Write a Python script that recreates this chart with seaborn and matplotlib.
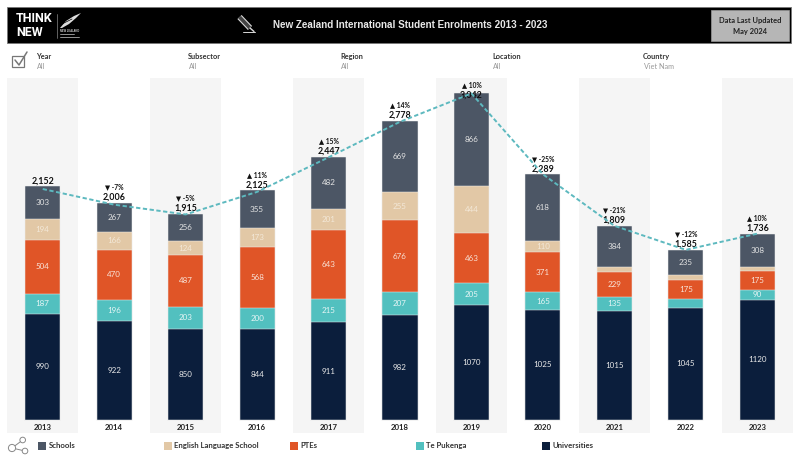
import matplotlib
matplotlib.use("Agg")
import matplotlib.pyplot as plt
from matplotlib.patches import Rectangle, Circle
import numpy as np
import seaborn as sns

years = ["2013", "2014", "2015", "2016", "2017", "2018", "2019", "2020", "2021", "2022", "2023"]
universities = [990, 922, 850, 844, 911, 982, 1070, 1025, 1015, 1045, 1120]
te_pukenga = [187, 196, 203, 200, 215, 207, 205, 165, 135, 85, 90]
ptes = [504, 470, 487, 568, 643, 676, 463, 371, 229, 175, 175]
english = [194, 166, 124, 173, 201, 255, 444, 110, 46, 45, 43]
schools = [303, 267, 256, 355, 482, 669, 866, 618, 384, 235, 308]
totals = [2152, 2006, 1915, 2125, 2447, 2778, 3042, 2289, 1809, 1585, 1736]
changes = [None, -7, -5, 11, 15, 14, 10, -25, -21, -12, 10]

# bottom to top, name / values / bar colour / label colour
stack = [
    ("Universities", universities, "#0b1e3c", "#e8e8e8"),
    ("Te Pukenga", te_pukenga, "#52c0bf", "#e6f5f5"),
    ("PTEs", ptes, "#e05527", "#f8e3d8"),
    ("English Language School", english, "#e2c8a6", "#f3e8d8"),
    ("Schools", schools, "#4c5665", "#e4e4e4"),
]
legend_order = ["Schools", "English Language School", "PTEs", "Te Pukenga", "Universities"]
legend_x = [38, 164, 290, 416, 542]
filter_names = ["Year", "Subsector", "Region", "Location", "Country"]
filter_values = ["All", "All", "All", "All", "Viet Nam"]
filter_x = [36, 188, 340, 492, 643]

W, H = 800, 458
sns.set_theme(style="white")
plt.rcParams["font.family"] = ["Lato", "DejaVu Sans"]

fig = plt.figure(figsize=(W / 100, H / 100), dpi=100, facecolor="white")


def pxAxes(left, top, right, bottom):
    return fig.add_axes([left / W, 1 - bottom / H, (right - left) / W, (bottom - top) / H])


ax = pxAxes(7, 78, 793, 433)
ax.set_facecolor("white")

# alternating year bands
for i in range(0, len(years), 2):
    ax.axvspan(i - 0.5, i + 0.5, color="#f5f5f5", lw=0, zorder=0)

# stacked bars, tallest cumulative layer first so the lower ones sit on top
cum = np.cumsum([s[1] for s in stack], axis=0)
for level in range(len(stack) - 1, -1, -1):
    sns.barplot(x=years, y=cum[level], color=stack[level][2], saturation=1, width=0.49,
                edgecolor="#f0f0f0", linewidth=0.35, ax=ax, zorder=2)

# segment labels
for level, (name, vals, col, txtcol) in enumerate(stack):
    base = cum[level] - np.array(vals)
    for i, v in enumerate(vals):
        if v < 90:
            continue
        ax.text(i, base[i] + v / 2, str(v), ha="center", va="center", fontsize=5.8,
                color=txtcol, zorder=4)

# totals and year on year change
tops = cum[-1]
for i, total in enumerate(totals):
    # 2019 label sits on the bar edge in the original
    off = -1.5 if years[i] == "2019" else 4
    ax.annotate(f"{total:,}", (i, tops[i]), xytext=(0, off), textcoords="offset points",
                ha="center", va="center", fontsize=6.4, fontweight="bold", color="#111111", zorder=3)
    if changes[i] is not None:
        arrow = "\u25b2" if changes[i] > 0 else "\u25bc"
        ax.annotate(f"{arrow} {changes[i]}%", (i, tops[i]), xytext=(0, off + 7.5), textcoords="offset points",
                    ha="center", va="center", fontsize=4.8, fontweight="bold", color="#111111", zorder=3)

sns.lineplot(x=np.arange(len(years)), y=totals, color="#5db9bf", linewidth=1.4,
             linestyle=(0, (2.2, 1.3)), errorbar=None, ax=ax, zorder=5)

ax.set_xlim(-0.5, 10.5)
ax.set_ylim(-121, 3186)
ax.set_xlabel("")
ax.set_ylabel("")
ax.set_yticks([])
ax.set_xticks(range(len(years)))
ax.set_xticklabels(years)
ax.tick_params(axis="x", length=0, pad=-6.5, labelsize=5.6, labelcolor="#222222")
for lab in ax.get_xticklabels():
    lab.set_fontweight("bold")
    lab.set_zorder(6)
sns.despine(ax=ax, left=True, bottom=True)

# everything around the chart, drawn in pixel coordinates
ov = fig.add_axes([0, 0, 1, 1], zorder=10)
ov.set_xlim(0, W)
ov.set_ylim(H, 0)
ov.axis("off")
ov.patch.set_alpha(0)

# header
ov.add_patch(Rectangle((7, 7), 784, 36, fc="black", ec="#777777", lw=0.6))
ov.text(16, 18, "THINK", color="white", fontsize=9, fontweight="bold", family="Roboto", va="center")
ov.text(16, 32.5, "NEW", color="white", fontsize=9, fontweight="bold", family="Roboto", va="center")
ov.plot([57, 57], [14, 38], color="#888888", lw=0.5)
# fern
ov.fill([60, 66, 74, 81, 76, 69, 62], [28, 21, 16, 13, 18, 24, 28], color="#dddddd", lw=0)
ov.plot([60, 72], [25, 19], color="black", lw=0.5)
ov.text(60, 31, "NEW ZEALAND", color="#cccccc", fontsize=1.9, va="center", family="Liberation Sans", fontweight="bold")
ov.plot([60, 74], [34, 34], color="#aaaaaa", lw=0.6)
ov.plot([60, 79], [37, 37], color="#aaaaaa", lw=0.6)

# pencil icon
ov.plot([239.5, 250], [17, 28], color="#d8d8d8", lw=4.2, solid_capstyle="butt")
ov.plot([239.5, 250], [17, 28], color="#444444", lw=2.6, solid_capstyle="butt")
ov.plot([250, 254], [28, 31.5], color="#d8d8d8", lw=1)
ov.plot([243, 255], [31.5, 31.5], color="#d8d8d8", lw=0.7)

ov.text(273, 25.5, "New Zealand International Student Enrolments 2013 - 2023", color="#e8e8e8",
        fontsize=7.1, fontweight="bold", family="Liberation Sans", va="center")

ov.add_patch(Rectangle((711, 10), 78, 31, fc="#b6b6b6", ec="#999999", lw=0.5))
ov.text(750, 21, "Data Last Updated", ha="center", va="center", fontsize=5.4, fontweight="bold", color="#222222")
ov.text(750, 31.5, "May 2024", ha="center", va="center", fontsize=5.4, fontweight="bold", color="#222222")

# filter row
ov.add_patch(Rectangle((12, 56), 12, 11, fc="none", ec="#777777", lw=0.9))
ov.plot([15, 19, 27], [60, 65, 52], color="#777777", lw=1.1)
for name, val, x in zip(filter_names, filter_values, filter_x):
    ov.text(x, 56.5, name, fontsize=5.3, fontweight="bold", color="#333333", va="center")
    ov.text(x + 1, 66.5, val, fontsize=5.2, color="#999999", va="center")

# legend
colours = {s[0]: s[2] for s in stack}
for name, x in zip(legend_order, legend_x):
    ov.add_patch(Rectangle((x, 441.5), 7.5, 8, fc=colours[name], ec="none"))
    ov.text(x + 10.5, 445.8, name, fontsize=5.6, fontweight="bold", color="#333333", va="center")

# network icon
nodes = [(12, 448), (22.7, 440), (25, 451)]
for n in nodes[1:]:
    ov.plot([nodes[0][0], n[0]], [nodes[0][1], n[1]], color="#888888", lw=0.7)
for (nx, ny), r in zip(nodes, [3.6, 2.8, 2.8]):
    ov.add_patch(Circle((nx, ny), r, fc="white", ec="#888888", lw=0.7, zorder=3))

fig.savefig("out.png", dpi=100, facecolor="white")
plt.close(fig)
